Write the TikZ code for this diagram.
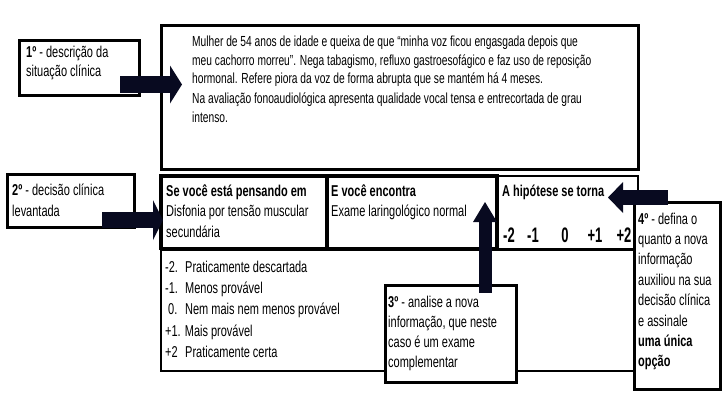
\documentclass[tikz,border=0pt]{standalone}
\usepackage{fontspec}
\setmainfont{Liberation Sans}[FakeStretch=0.7]
\newfontfamily\numfont{Liberation Sans}[FakeStretch=0.62]
\usetikzlibrary{arrows.meta}

\definecolor{arrowblue}{RGB}{8,10,32}

% texts are placed at the baseline of their last line
\tikzset{
  card/.style={draw,line width=2.6pt,fill=white},
  txt/.style={anchor=base west,inner sep=0pt,align=left,
    font=\fontsize{15.7}{20.5}\selectfont},
  bigarrow/.style={arrowblue,line width=#1}
}

\begin{document}
\begin{tikzpicture}[x=1pt,y=-1pt]
  \useasboundingbox (0,0) rectangle (726,408);

  % caso clinico
  \draw[line width=3pt] (161,25.5) rectangle (638,169.5);
  \node[txt,font=\fontsize{14.6}{18.5}\selectfont] (caso) at (192,122.2)
    {Mulher de 54 anos de idade e queixa de que “minha voz ficou engasgada depois que\\
     meu cachorro morreu”. Nega tabagismo, refluxo gastroesofágico e faz uso de reposição\\
     hormonal. Refere piora da voz de forma abrupta que se mantém há 4 meses.\\[1.5pt]
     Na avaliação fonoaudiológica apresenta qualidade vocal tensa e entrecortada de grau\\
     intenso.};

  % hipotese, nova informacao, escala
  \draw[line width=3.2pt] (161,176) rectangle (327,248.5);
  \draw[line width=3.2pt] (327,176) rectangle (497,248.5);
  \draw[line width=2.6pt] (497,176) rectangle (638,249.5);
  \draw[line width=2pt] (161,249.5) rectangle (637,370.5);

  \node[txt] (pensando) at (166,237)
    {\textbf{Se você está pensando em}\\Disfonia por tensão muscular\\secundária};
  \node[txt] (encontra) at (331,216.5)
    {\textbf{E você encontra}\\Exame laringológico normal};
  \node[txt] (torna) at (502,196) {\textbf{A hipótese se torna}};
  \foreach \v/\xc [count=\i] in {-2/509,-1/533,0/565,+1/595,+2/624}
    \node[anchor=base,inner sep=0pt,font=\numfont\bfseries\fontsize{21}{21}\selectfont]
      (num\i) at (\xc,242) {\v};

  \node[txt,font=\fontsize{15.7}{21.2}\selectfont] (lista) at (165,357.3)
    {\makebox[20pt][l]{-2.}Praticamente descartada\\
     \makebox[20pt][l]{-1.}Menos provável\\
     \makebox[20pt][l]{\hspace{3pt}0.}Nem mais nem menos provável\\
     +1. Mais provável\\
     \makebox[20pt][l]{+2}Praticamente certa};

  % passos
  \draw[card] (19.5,40.5) rectangle (139.5,95.5);
  \node[txt,font=\fontsize{15.7}{18.5}\selectfont] (passo1) at (26,76)
    {\textbf{1º} - descrição da\\situação clínica};

  \draw[card] (7.5,174.5) rectangle (134.5,227.5);
  \node[txt,font=\fontsize{15.7}{21}\selectfont] (passo2) at (12,216)
    {\textbf{2º} - decisão clínica\\levantada};

  \draw[card] (385.5,285.5) rectangle (516.5,382.5);
  \node[txt,font=\fontsize{15.7}{20}\selectfont] (passo3) at (388,367.5)
    {\textbf{3º} - analise a nova\\informação, que neste\\caso é um exame\\complementar};

  \draw[card] (634.5,202.5) rectangle (720.5,389.5);
  \node[txt,font=\fontsize{15.7}{20.4}\selectfont] (passo4) at (638,366.8)
    {\textbf{4º} - defina o\\quanto a nova\\informação\\auxiliou na sua\\decisão clínica\\e assinale\\
     \textbf{uma única}\\\textbf{opção}};

  % setas
  \coordinate (s1a) at (120,84.5);
  \coordinate (s1b) at (182,84.5);
  \coordinate (s2a) at (102,220);
  \coordinate (s2b) at (163,220);
  \coordinate (s3a) at (485,293);
  \coordinate (s3b) at (485,202);
  \coordinate (s4a) at (668,197.5);
  \coordinate (s4b) at (608,197.5);

  \draw[bigarrow=17pt,-{Triangle[length=12pt,width=38pt,line width=0pt]}] (s1a) -- (s1b);
  \draw[bigarrow=16pt,-{Triangle[length=10pt,width=40pt,line width=0pt]}] (s2a) -- (s2b);
  \draw[bigarrow=13pt,-{Triangle[length=20pt,width=24pt,line width=0pt]}] (s3a) -- (s3b);
  \draw[bigarrow=15pt,-{Triangle[length=15pt,width=31pt,line width=0pt]}] (s4a) -- (s4b);
\end{tikzpicture}
\end{document}
